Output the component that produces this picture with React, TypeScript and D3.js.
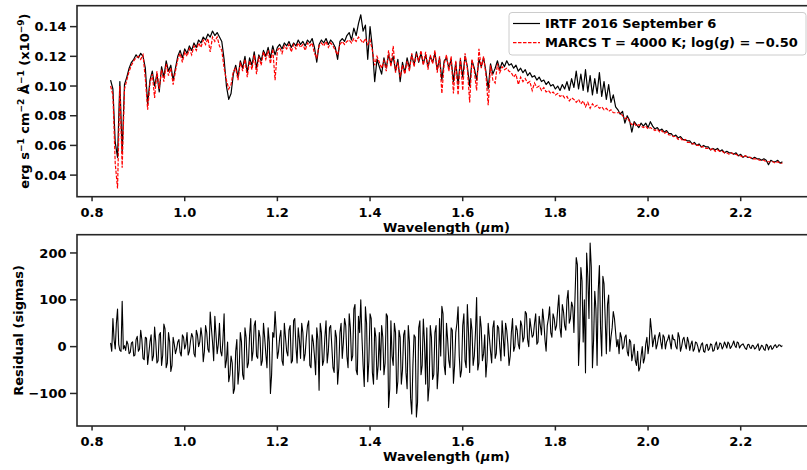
import React from 'react';
import * as d3 from 'd3';

// ---------- data ----------
const wavelength = [
  0.840,0.845,0.850,0.855,0.860,0.865,0.870,0.875,0.880,0.885,
  0.890,0.895,0.900,0.905,0.910,0.915,0.920,0.925,0.930,0.935,
  0.940,0.945,0.950,0.955,0.960,0.965,0.970,0.975,0.980,0.985,
  0.990,0.995,1.000,1.005,1.010,1.015,1.020,1.025,1.030,1.035,
  1.040,1.045,1.050,1.055,1.060,1.065,1.070,1.075,1.080,1.085,
  1.090,1.095,1.100,1.105,1.110,1.115,1.120,1.125,1.130,1.135,
  1.140,1.145,1.150,1.155,1.160,1.165,1.170,1.175,1.180,1.185,
  1.190,1.195,1.200,1.205,1.210,1.215,1.220,1.225,1.230,1.235,
  1.240,1.245,1.250,1.255,1.260,1.265,1.270,1.275,1.280,1.285,
  1.290,1.295,1.300,1.305,1.310,1.315,1.320,1.325,1.330,1.335,
  1.340,1.345,1.350,1.355,1.360,1.365,1.370,1.375,1.380,1.385,
  1.390,1.395,1.400,1.405,1.410,1.415,1.420,1.425,1.430,1.435,
  1.440,1.445,1.450,1.455,1.460,1.465,1.470,1.475,1.480,1.485,
  1.490,1.495,1.500,1.505,1.510,1.515,1.520,1.525,1.530,1.535,
  1.540,1.545,1.550,1.555,1.560,1.565,1.570,1.575,1.580,1.585,
  1.590,1.595,1.600,1.605,1.610,1.615,1.620,1.625,1.630,1.635,
  1.640,1.645,1.650,1.655,1.660,1.665,1.670,1.675,1.680,1.685,
  1.690,1.695,1.700,1.705,1.710,1.715,1.720,1.725,1.730,1.735,
  1.740,1.745,1.750,1.755,1.760,1.765,1.770,1.775,1.780,1.785,
  1.790,1.795,1.800,1.805,1.810,1.815,1.820,1.825,1.830,1.835,
  1.840,1.845,1.850,1.855,1.860,1.865,1.870,1.875,1.880,1.885,
  1.890,1.895,1.900,1.905,1.910,1.915,1.920,1.925,1.930,1.935,
  1.940,1.945,1.950,1.955,1.960,1.965,1.970,1.975,1.980,1.985,
  1.990,1.995,2.000,2.005,2.010,2.015,2.020,2.025,2.030,2.035,
  2.040,2.045,2.050,2.055,2.060,2.065,2.070,2.075,2.080,2.085,
  2.090,2.095,2.100,2.105,2.110,2.115,2.120,2.125,2.130,2.135,
  2.140,2.145,2.150,2.155,2.160,2.165,2.170,2.175,2.180,2.185,
  2.190,2.195,2.200,2.205,2.210,2.215,2.220,2.225,2.230,2.235,
  2.240,2.245,2.250,2.255,2.260,2.265,2.270,2.275,2.280,2.285,
  2.290,
];

// IRTF observed flux (x1e-9 erg s-1 cm-2 A-1)
const irtfFlux = [
  0.104,0.098,0.062,0.052,0.103,0.055,0.101,
  0.106,0.112,0.116,0.118,0.121,0.119,0.122,0.120,0.112,0.088,0.104,0.110,0.100,0.108,0.096,0.113,0.106,0.117,0.110,0.114,0.104,0.112,
  0.120,0.124,0.119,0.125,0.122,0.127,0.124,0.129,0.126,0.131,0.129,0.133,0.131,0.135,0.133,0.137,0.134,0.136,0.133,0.130,0.118,
  0.100,0.091,0.095,0.108,0.114,0.106,0.117,0.112,0.120,0.109,0.119,0.114,0.123,0.112,0.121,0.117,0.124,0.120,0.126,0.119,0.127,0.121,0.126,
  0.128,0.125,0.129,0.127,0.130,0.126,0.129,0.127,0.131,0.128,0.130,0.127,0.131,0.129,0.132,0.126,0.116,0.128,0.131,0.129,0.132,0.128,0.131,0.129,0.126,0.118,0.130,0.132,0.130,0.134,
  0.136,0.131,0.139,0.134,0.142,0.148,0.137,0.141,0.118,0.140,0.126,0.103,0.118,0.113,
  0.108,0.119,0.112,0.121,0.115,0.120,0.110,0.118,0.103,0.116,
  0.109,0.119,0.112,0.121,0.114,0.123,0.116,0.122,0.115,0.121,
  0.113,0.120,0.116,0.122,0.111,0.119,0.104,0.117,0.119,0.112,
  0.118,0.103,0.116,0.101,0.118,0.106,0.120,0.113,0.100,0.117,
  0.112,0.104,0.118,0.113,0.119,0.110,0.098,0.115,0.108,0.112,
  0.117,0.111,0.116,0.113,0.117,0.114,
  0.115,0.112,0.114,0.110,0.112,0.109,0.111,0.107,0.109,0.106,0.107,0.104,0.106,0.103,0.104,0.101,0.103,0.100,0.101,0.098,
  0.100,0.097,0.101,0.098,0.103,0.097,0.105,0.099,0.110,0.098,0.108,0.097,0.111,0.096,0.107,0.094,0.105,0.095,0.109,0.093,0.103,0.091,0.101,0.089,0.094,0.086,
  0.084,0.081,0.083,0.075,0.080,0.077,0.069,0.076,0.074,0.072,
  0.075,0.073,0.075,0.072,0.076,0.073,0.071,0.072,0.070,0.071,
  0.069,0.070,0.068,0.068,0.066,0.067,0.065,0.066,0.064,0.064,
  0.063,0.063,0.061,0.062,0.060,0.061,0.059,0.060,0.059,0.059,
  0.057,0.058,0.057,0.058,0.056,0.057,0.055,0.056,0.055,0.055,
  0.054,0.055,0.053,0.054,0.052,0.053,0.052,0.052,0.051,0.052,
  0.051,0.051,0.050,0.051,0.050,0.047,0.050,0.049,0.049,0.050,
  0.048,0.049,
];

// MARCS model flux
const marcsFlux = [
  0.100,0.094,0.048,0.031,0.100,0.045,0.098,
  0.104,0.110,0.114,0.117,0.119,0.120,0.118,0.121,0.105,0.084,0.102,0.108,0.092,0.110,0.098,0.111,0.103,0.115,0.107,0.112,0.101,0.110,
  0.118,0.122,0.116,0.123,0.120,0.125,0.121,0.127,0.124,0.129,0.126,0.131,0.128,0.132,0.123,0.133,0.130,0.133,0.127,0.124,0.112,
  0.104,0.098,0.101,0.110,0.112,0.104,0.116,0.110,0.118,0.106,0.117,0.111,0.121,0.108,0.120,0.114,0.123,0.118,0.124,0.115,0.125,0.104,0.124,
  0.126,0.122,0.127,0.125,0.128,0.123,0.128,0.125,0.129,0.126,0.128,0.124,0.129,0.127,0.129,0.122,0.119,0.127,0.129,0.127,0.130,0.126,0.129,0.127,0.124,0.121,0.128,0.130,0.128,0.130,
  0.131,0.129,0.132,0.130,0.133,0.131,0.129,0.132,0.128,0.131,0.124,0.114,0.120,0.116,
  0.112,0.117,0.110,0.124,0.113,0.127,0.109,0.116,0.106,0.114,
  0.108,0.117,0.110,0.122,0.113,0.121,0.117,0.124,0.114,0.123,
  0.111,0.121,0.115,0.124,0.109,0.120,0.095,0.115,0.121,0.110,
  0.120,0.095,0.117,0.094,0.119,0.097,0.122,0.112,0.089,0.118,
  0.110,0.097,0.125,0.112,0.120,0.108,0.087,0.114,0.104,0.102,
  0.115,0.109,0.113,0.111,0.112,0.110,
  0.109,0.106,0.108,0.101,0.106,0.103,0.105,0.102,0.103,0.097,0.102,0.099,0.100,0.097,0.099,0.096,0.097,0.095,0.096,0.094,
  0.095,0.093,0.094,0.092,0.093,0.090,0.092,0.091,0.089,0.091,0.088,0.090,0.086,0.089,0.085,0.088,0.086,0.087,0.085,0.086,0.084,0.085,0.083,0.084,0.082,0.082,
  0.082,0.082,0.080,0.078,0.079,0.076,0.074,0.075,0.073,0.074,
  0.073,0.072,0.073,0.071,0.072,0.071,0.070,0.071,0.069,0.070,
  0.068,0.069,0.067,0.067,0.066,0.066,0.064,0.065,0.063,0.064,
  0.062,0.062,0.061,0.061,0.060,0.060,0.059,0.059,0.058,0.058,
  0.057,0.058,0.056,0.057,0.056,0.056,0.055,0.055,0.054,0.055,
  0.054,0.054,0.053,0.053,0.052,0.053,0.052,0.052,0.051,0.051,
  0.051,0.050,0.050,0.050,0.049,0.049,0.049,0.049,0.048,0.049,
  0.048,0.048,
];

// residual (sigmas) on the main grid
const residual = [
  8,60,-5,80,-8,97,2,
  12,-15,8,-20,15,-10,35,-25,20,-38,10,-30,42,-35,25,-40,48,-45,30,-53,20,-15,
  10,-12,25,-5,30,-10,28,-15,35,0,40,-32,45,-5,74,10,65,-15,50,-20,70,
  -30,-75,-20,-100,-10,-80,30,-60,40,-45,25,-30,45,-20,35,-40,50,-15,40,-100,30,75,-25,
  20,-30,50,-10,35,-35,55,0,40,-25,30,-15,45,-40,25,-20,40,-93,30,-30,55,-10,45,-45,35,-80,30,-25,60,-20,
  70,-30,80,-50,65,100,-40,85,-75,70,-55,40,-70,30,
  45,-60,70,-130,55,-40,30,-74,20,-50,
  35,-90,10,-144,25,-150,40,-60,59,-80,
  -116,45,-70,30,-90,60,86,-40,50,-30,
  40,-78,30,85,-65,45,-30,90,-55,35,
  -20,105,-35,40,-15,-65,50,-10,40,-25,
  45,0,55,-20,35,-40,
  30,-10,45,5,55,10,75,15,60,20,50,5,65,25,55,-10,60,30,70,35,
  80,40,90,45,100,50,95,30,190,-40,169,10,-56,150,221,-45,118,-40,173,-20,134,-15,110,20,75,30,
  15,30,-5,20,-10,15,-30,5,-40,-52,
  -20,-35,5,-15,60,0,25,5,30,-5,
  20,10,25,-5,15,0,30,-10,15,5,
  20,-8,12,-5,8,-12,5,-10,3,-8,
  6,-10,4,-6,8,-5,10,-3,6,0,
  12,-2,8,2,6,-4,4,-2,3,-5,
  2,-8,3,-6,5,-7,2,-3,4,0,
  3,2,
];

// residual samples between the main grid points
const wavelengthHalf = [
  0.8425,0.8475,0.8525,0.8575,0.8625,0.8675,0.8725,0.8775,0.8825,0.8875,
  0.8925,0.8975,0.9025,0.9075,0.9125,0.9175,0.9225,0.9275,0.9325,0.9375,
  0.9425,0.9475,0.9525,0.9575,0.9625,0.9675,0.9725,0.9775,0.9825,0.9875,
  0.9925,0.9975,1.0025,1.0075,1.0125,1.0175,1.0225,1.0275,1.0325,1.0375,
  1.0425,1.0475,1.0525,1.0575,1.0625,1.0675,1.0725,1.0775,1.0825,1.0875,
  1.0925,1.0975,1.1025,1.1075,1.1125,1.1175,1.1225,1.1275,1.1325,1.1375,
  1.1425,1.1475,1.1525,1.1575,1.1625,1.1675,1.1725,1.1775,1.1825,1.1875,
  1.1925,1.1975,1.2025,1.2075,1.2125,1.2175,1.2225,1.2275,1.2325,1.2375,
  1.2425,1.2475,1.2525,1.2575,1.2625,1.2675,1.2725,1.2775,1.2825,1.2875,
  1.2925,1.2975,1.3025,1.3075,1.3125,1.3175,1.3225,1.3275,1.3325,1.3375,
  1.3425,1.3475,1.3525,1.3575,1.3625,1.3675,1.3725,1.3775,1.3825,1.3875,
  1.3925,1.3975,1.4025,1.4075,1.4125,1.4175,1.4225,1.4275,1.4325,1.4375,
  1.4425,1.4475,1.4525,1.4575,1.4625,1.4675,1.4725,1.4775,1.4825,1.4875,
  1.4925,1.4975,1.5025,1.5075,1.5125,1.5175,1.5225,1.5275,1.5325,1.5375,
  1.5425,1.5475,1.5525,1.5575,1.5625,1.5675,1.5725,1.5775,1.5825,1.5875,
  1.5925,1.5975,1.6025,1.6075,1.6125,1.6175,1.6225,1.6275,1.6325,1.6375,
  1.6425,1.6475,1.6525,1.6575,1.6625,1.6675,1.6725,1.6775,1.6825,1.6875,
  1.6925,1.6975,1.7025,1.7075,1.7125,1.7175,1.7225,1.7275,1.7325,1.7375,
  1.7425,1.7475,1.7525,1.7575,1.7625,1.7675,1.7725,1.7775,1.7825,1.7875,
  1.7925,1.7975,1.8025,1.8075,1.8125,1.8175,1.8225,1.8275,1.8325,1.8375,
  1.8425,1.8475,1.8525,1.8575,1.8625,1.8675,1.8725,1.8775,1.8825,1.8875,
  1.8925,1.8975,1.9025,1.9075,1.9125,1.9175,1.9225,1.9275,1.9325,1.9375,
  1.9425,1.9475,1.9525,1.9575,1.9625,1.9675,1.9725,1.9775,1.9825,1.9875,
  1.9925,1.9975,2.0025,2.0075,2.0125,2.0175,2.0225,2.0275,2.0325,2.0375,
  2.0425,2.0475,2.0525,2.0575,2.0625,2.0675,2.0725,2.0775,2.0825,2.0875,
  2.0925,2.0975,2.1025,2.1075,2.1125,2.1175,2.1225,2.1275,2.1325,2.1375,
  2.1425,2.1475,2.1525,2.1575,2.1625,2.1675,2.1725,2.1775,2.1825,2.1875,
  2.1925,2.1975,2.2025,2.2075,2.2125,2.2175,2.2225,2.2275,2.2325,2.2375,
  2.2425,2.2475,2.2525,2.2575,2.2625,2.2675,2.2725,2.2775,2.2825,2.2875,
];

const residualHalf = [
  -10,15,50,5,-10,-5,
  -8,5,-12,10,-18,22,-5,15,-28,18,-15,25,-20,10,-30,30,-18,38,-35,10,-40,5,
  -5,15,-20,20,5,-18,12,20,-22,25,10,20,-10,30,-12,40,-30,25,5,-10,15,
  -45,10,-60,-35,-90,15,-50,10,-70,20,-35,60,-10,55,-25,20,-30,20,-45,10,-60,20,30,
  -10,35,-40,20,-20,45,-30,60,-35,15,50,-30,20,55,-45,10,-60,15,50,-40,20,-35,40,0,-55,20,-45,50,10,45,
  -45,40,-20,90,-60,30,20,-85,50,-30,60,-80,20,-40,
  -50,20,-35,65,-90,-20,50,-100,35,-80,
  25,-55,45,-110,-40,20,-120,55,-40,10,
  40,-85,20,-60,45,-50,-20,70,-60,15,
  -45,35,-40,50,-20,-50,70,-45,30,60,
  -40,30,-50,65,-30,25,-30,20,-35,55,
  -15,40,-30,20,50,5,
  -20,60,0,35,-5,45,20,70,0,40,25,70,10,45,80,15,45,85,20,60,
  45,110,20,75,35,120,60,85,110,175,20,140,100,200,60,170,15,80,120,40,150,60,90,-10,40,60,
  0,-15,20,0,25,-20,10,-15,-30,-10,
  -45,0,-25,20,5,35,15,-5,20,10,
  25,-5,15,10,25,15,-5,20,0,20,
  -5,10,5,-10,10,0,-5,8,-12,5,
  -5,4,-8,10,-2,6,0,4,10,-4,
  5,2,10,-3,4,1,-6,5,-4,2,
  -3,6,-4,1,-8,3,0,-6,2,-2,
  4,0,
];

const xTickValues = [0.8, 1.0, 1.2, 1.4, 1.6, 1.8, 2.0, 2.2];
const fluxTickValues = [0.04, 0.06, 0.08, 0.10, 0.12, 0.14];
const residTickValues = [-100, 0, 100, 200];

const FONT = "'DejaVu Sans', 'Noto Sans', sans-serif";
const SPINE = '#262626';

export default function App() {
  const W = 807, H = 470;
  const left = 77, right = 816;
  const topA = { t: 5.7, b: 196.7 };
  const botA = { t: 234.7, b: 426 };

  const x = d3.scaleLinear().domain([0.7675, 2.3625]).range([left, right]);
  const yTop = d3.scaleLinear().domain([0.02546, 0.1541]).range([topA.b, topA.t]);
  const yBot = d3.scaleLinear().domain([-169.5, 239]).range([botA.b, botA.t]);

  const n = Math.min(wavelength.length, irtfFlux.length, marcsFlux.length);
  const idx = d3.range(n);

  const resPts: [number, number][] = [];
  wavelength.forEach((w, i) => { if (i < residual.length) resPts.push([w, residual[i]]); });
  wavelengthHalf.forEach((w, i) => { if (i < residualHalf.length) resPts.push([w, residualHalf[i]]); });
  resPts.sort((a, b) => a[0] - b[0]);

  const lineObs = d3.line<number>().x(i => x(wavelength[i])).y(i => yTop(irtfFlux[i]));
  const lineMod = d3.line<number>().x(i => x(wavelength[i])).y(i => yTop(marcsFlux[i]));
  const lineRes = d3.line<[number, number]>().x(p => x(p[0])).y(p => yBot(p[1]));

  const fs = 13;
  const xAxis = (yb: number, key: string) => (
    <g key={key}>
      {xTickValues.map(v => (
        <g key={v}>
          <line x1={x(v)} x2={x(v)} y1={yb} y2={yb + 4.5} stroke={SPINE} strokeWidth={1.5} />
          <text x={x(v)} y={yb + 20} textAnchor="middle" fontSize={fs} fontWeight="bold" fontFamily={FONT}>
            {v.toFixed(1)}
          </text>
        </g>
      ))}
      <text x={(left + right) / 2} y={yb + 34.8} textAnchor="middle" fontSize={fs} fontWeight="bold" fontFamily={FONT}>
        Wavelength (<tspan fontStyle="italic">μ</tspan>m)
      </text>
    </g>
  );

  const frame = (a: { t: number; b: number }) => (
    <rect x={left} y={a.t} width={right - left} height={a.b - a.t} fill="none" stroke={SPINE} strokeWidth={1.6} />
  );

  return (
    <svg width={W} height={H} style={{ position: 'absolute', left: 0, top: 0, background: '#fff' }}
      xmlns="http://www.w3.org/2000/svg">
      <defs>
        <clipPath id="clipTop"><rect x={left} y={topA.t} width={right - left} height={topA.b - topA.t} /></clipPath>
        <clipPath id="clipBot"><rect x={left} y={botA.t} width={right - left} height={botA.b - botA.t} /></clipPath>
      </defs>
      <rect x={0} y={0} width={W} height={H} fill="#fff" />

      {/* top panel */}
      <g clipPath="url(#clipTop)">
        <path d={lineObs(idx) || ''} fill="none" stroke="#000" strokeWidth={1.2} strokeLinejoin="round" />
        <path d={lineMod(idx) || ''} fill="none" stroke="#ff0000" strokeWidth={1.2} strokeDasharray="3.5,1.5" />
      </g>
      {frame(topA)}
      {fluxTickValues.map(v => (
        <g key={v}>
          <line x1={left - 7} x2={left} y1={yTop(v)} y2={yTop(v)} stroke={SPINE} strokeWidth={1.5} />
          <text x={left - 10.5} y={yTop(v) + 4.6} textAnchor="end" fontSize={fs} fontWeight="bold" fontFamily={FONT}>
            {v.toFixed(2)}
          </text>
        </g>
      ))}
      {xAxis(topA.b, 'xa1')}
      <text transform={`translate(28.5,${(topA.t + topA.b) / 2}) rotate(-90)`} textAnchor="middle"
        fontSize={fs} fontWeight="bold" fontFamily={FONT}>
        erg s<tspan dy={-5} fontSize={9}>−1</tspan><tspan dy={5}> cm</tspan><tspan dy={-5} fontSize={9}>−2</tspan>
        <tspan dy={5}> Å</tspan><tspan dy={-5} fontSize={9}>−1</tspan>
        <tspan dy={5}> (x10</tspan><tspan dy={-5} fontSize={9}>−9</tspan><tspan dy={5}>)</tspan>
      </text>

      {/* legend */}
      <rect x={509} y={12.5} width={297} height={42.5} rx={3} fill="#fff" fillOpacity={0.85} stroke="#cccccc" strokeWidth={1} />
      <line x1={513} x2={540} y1={23.5} y2={23.5} stroke="#000" strokeWidth={1.2} />
      <text x={545} y={28.3} fontSize={fs} fontWeight="bold" fontFamily={FONT}>IRTF 2016 September 6</text>
      <line x1={513} x2={540} y1={42.7} y2={42.7} stroke="#ff0000" strokeWidth={1.2} strokeDasharray="3.5,1.5" />
      <text x={545} y={47.3} fontSize={fs} fontWeight="bold" fontFamily={FONT}>
        MARCS T = 4000 K; log(<tspan fontStyle="italic">g</tspan>) = −0.50
      </text>

      {/* bottom panel */}
      <g clipPath="url(#clipBot)">
        <path d={lineRes(resPts) || ''} fill="none" stroke="#000" strokeWidth={1.1} strokeLinejoin="round" />
      </g>
      {frame(botA)}
      {residTickValues.map(v => (
        <g key={v}>
          <line x1={left - 7} x2={left} y1={yBot(v)} y2={yBot(v)} stroke={SPINE} strokeWidth={1.5} />
          <text x={left - 10.5} y={yBot(v) + 4.6} textAnchor="end" fontSize={fs} fontWeight="bold" fontFamily={FONT}>
            {v < 0 ? '−' + Math.abs(v) : String(v)}
          </text>
        </g>
      ))}
      {xAxis(botA.b, 'xa2')}
      <text transform={`translate(22.5,${(botA.t + botA.b) / 2}) rotate(-90)`} textAnchor="middle"
        fontSize={fs} fontWeight="bold" fontFamily={FONT}>
        Residual (sigmas)
      </text>
    </svg>
  );
}
